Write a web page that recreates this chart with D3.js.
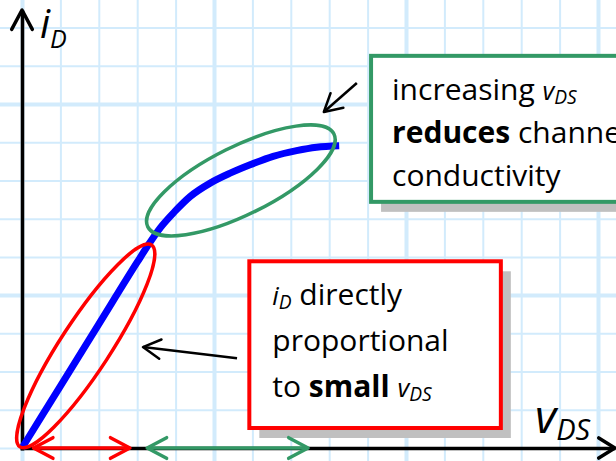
<!DOCTYPE html>
<html>
<head>
<meta charset="utf-8">
<script src="https://cdn.jsdelivr.net/npm/d3@7"></script>
<style>
  body{margin:0;background:#fff;}
  svg{display:block;font-family:"Comic Sans MS","Open Sans",sans-serif;}
  text{white-space:pre;}
</style>
</head>
<body>
<div class="chart-container"></div>
<script>
// iD - vDS curve, in grid units
var vDS = [0, 1, 2, 3, 3.3, 3.6, 3.98, 4.38, 4.9, 5.42, 5.94, 6.54, 7.15, 7.67, 8.26];
var iD  = [0, 1.62, 3.24, 4.86, 5.33, 5.76, 6.19, 6.58, 6.93, 7.19, 7.41, 7.63, 7.78, 7.87, 7.91];
// ranges marked under the vDS axis
var linearRange = [0.3, 2.81];
var saturRange  = [3.26, 7.45];
// grid lines
var gridX = d3.range(-1, 17);
var gridY = d3.range(-1, 13);
var vMax = 15.44, iMax = 11.46;
// note texts
var greenNote = [
  [{t:"increasing "}, {t:"v", i:1, s:0.85}, {t:"DS", i:1, s:0.64, sub:1}],
  [{t:"reduces", b:1}, {t:" channel"}],
  [{t:"conductivity"}]
];
var redNote = [
  [{t:"i", i:1, s:0.85}, {t:"D", i:1, s:0.64, sub:1}, {t:" directly"}],
  [{t:"proportional"}],
  [{t:"to "}, {t:"small", b:1}, {t:" "}, {t:"v", i:1, s:0.85}, {t:"DS", i:1, s:0.64, sub:1}]
];

var width = 616, height = 461;
var svg = d3.select(".chart-container").append("svg")
    .attr("width", width)
    .attr("height", height);

var x = d3.scaleLinear().domain([0, 15]).range([22, 598]);
var y = d3.scaleLinear().domain([0, 9]).range([448, 104]);

svg.append("rect").attr("width", width).attr("height", height).attr("fill", "#fff");

// grid
var gx = svg.append("g").attr("class", "grid-x")
    .call(d3.axisTop(x).tickValues(gridX).tickSize(-height).tickFormat(""));
var gy = svg.append("g").attr("class", "grid-y")
    .call(d3.axisLeft(y).tickValues(gridY).tickSize(-width).tickFormat(""));
svg.selectAll(".grid-x .domain, .grid-y .domain").remove();
gx.selectAll("line").attr("stroke", "#d2ebfc")
    .attr("stroke-width", function(d){ return ((d % 5) + 5) % 5 === 0 ? 4 : 2; });
gy.selectAll("line").attr("stroke", "#d2ebfc")
    .attr("stroke-width", function(d){ return (((d + 1) % 5) + 5) % 5 === 0 ? 4 : 2; });

// boxes with shadow
function noteBox(u0, u1, w0, w1, color){
    var bx = x(u0), by = y(w0), bw = x(u1) - x(u0), bh = y(w1) - y(w0);
    svg.append("rect").attr("x", bx + 10).attr("y", by + 10).attr("width", bw).attr("height", bh)
        .attr("fill", "#c0c0c0");
    svg.append("rect").attr("x", bx).attr("y", by).attr("width", bw).attr("height", bh)
        .attr("fill", "#fff").attr("stroke", color).attr("stroke-width", 4);
    return {x: bx, y: by};
}
var gBox = noteBox(9.09, 16, 10.26, 6.44, "#339966");
var rBox = noteBox(5.92, 12.47, 4.885, 0.523, "#ff0000");

function chevron(tip, back, len, ang, color, sw){
    var a0 = Math.atan2(back[1], back[0]), r = ang * Math.PI / 180;
    var p1 = [tip[0] + len * Math.cos(a0 - r), tip[1] + len * Math.sin(a0 - r)];
    var p2 = [tip[0] + len * Math.cos(a0 + r), tip[1] + len * Math.sin(a0 + r)];
    svg.append("path")
        .attr("d", "M" + p1 + "L" + tip + "L" + p2)
        .attr("fill", "none").attr("stroke", color).attr("stroke-width", sw)
        .attr("stroke-linecap", "round").attr("stroke-linejoin", "round");
}

// axes
var xAxisScale = d3.scaleLinear().domain([-0.05, vMax]).range([x(-0.05), x(vMax)]);
var yAxisScale = d3.scaleLinear().domain([-0.05, iMax]).range([y(-0.05), y(iMax)]);
svg.append("g").attr("class", "x-axis").attr("transform", "translate(0," + y(0) + ")")
    .call(d3.axisBottom(xAxisScale).tickValues([]).tickSizeOuter(0));
svg.append("g").attr("class", "y-axis").attr("transform", "translate(" + x(0) + ",0)")
    .call(d3.axisLeft(yAxisScale).tickValues([]).tickSizeOuter(0));
svg.selectAll(".x-axis path, .y-axis path").attr("stroke", "#000").attr("stroke-width", 3.5);
chevron([x(vMax), y(0)], [-1, 0], 19, 32, "#000", 3.5);
chevron([x(0), y(iMax)], [0, 1], 22, 28, "#000", 3.5);

// curve
var pts = vDS.map(function(v, k){ return [v, iD[k]]; });
var line = d3.line()
    .x(function(d){ return x(d[0]); })
    .y(function(d){ return y(d[1]); })
    .curve(d3.curveMonotoneX);
svg.append("path").datum(pts)
    .attr("d", line)
    .attr("fill", "none").attr("stroke", "#0000ff").attr("stroke-width", 7);

// ellipses
svg.append("ellipse")
    .attr("transform", "translate(" + x(5.70) + "," + y(7.0) + ") rotate(-26.5)")
    .attr("rx", 104).attr("ry", 34)
    .attr("fill", "none").attr("stroke", "#339966").attr("stroke-width", 3.5);
svg.append("ellipse")
    .attr("transform", "translate(" + x(1.66) + "," + y(2.67) + ") rotate(-56.9)")
    .attr("rx", 120.5).attr("ry", 25)
    .attr("fill", "none").attr("stroke", "#ff0000").attr("stroke-width", 3.5);

// double arrows under the axis
function rangeArrow(r, color){
    var a = [x(r[0]), y(0)], b = [x(r[1]), y(0)];
    svg.append("line").attr("x1", a[0]).attr("y1", a[1]).attr("x2", b[0]).attr("y2", b[1])
        .attr("stroke", color).attr("stroke-width", 3.5);
    chevron(a, [1, 0], 22, 28, color, 3.5);
    chevron(b, [-1, 0], 22, 28, color, 3.5);
}
rangeArrow(linearRange, "#ff0000");
rangeArrow(saturRange, "#339966");

// pointers
var pointers = [{from: [8.72, 9.55], to: [7.86, 8.79]}, {from: [5.60, 2.35], to: [3.15, 2.64]}];
pointers.forEach(function(p){
    var a = [x(p.from[0]), y(p.from[1])], b = [x(p.to[0]), y(p.to[1])];
    svg.append("line").attr("x1", a[0]).attr("y1", a[1]).attr("x2", b[0]).attr("y2", b[1])
        .attr("stroke", "#000").attr("stroke-width", 2.5);
    chevron(b, [a[0] - b[0], a[1] - b[1]], 20, 29, "#000", 2.5);
});

// texts
function addNote(lines, x0, y0, lh, size){
    lines.forEach(function(segs, k){
        var t = svg.append("text").attr("x", x0).attr("y", y0 + k * lh)
            .attr("font-size", size).attr("fill", "#000");
        var shift = 0;
        segs.forEach(function(s){
            var off = s.sub ? 4 : 0;
            t.append("tspan").attr("dy", off - shift)
                .attr("font-size", size * (s.s || 1))
                .attr("font-style", s.i ? "italic" : "normal")
                .attr("font-weight", s.b ? "bold" : "normal")
                .text(s.t);
            shift = off;
        });
    });
}
addNote(greenNote, gBox.x + 21, gBox.y + 44, 43.3, 30);
addNote(redNote, rBox.x + 23, rBox.y + 44, 45.7, 30);

// axis labels
var lab = svg.append("text").attr("x", 40).attr("y", 38).attr("fill", "#000");
lab.append("tspan").attr("font-size", 40).attr("font-style", "italic").text("i");
lab.append("tspan").attr("font-size", 25).attr("font-style", "italic").attr("dy", 10).text("D");
var lab2 = svg.append("text").attr("x", 535).attr("y", 433).attr("fill", "#000");
lab2.append("tspan").attr("font-size", 46).attr("font-style", "italic").text("v");
lab2.append("tspan").attr("font-size", 29).attr("font-style", "italic").attr("dy", 7).text("DS");
</script>
</body>
</html>
